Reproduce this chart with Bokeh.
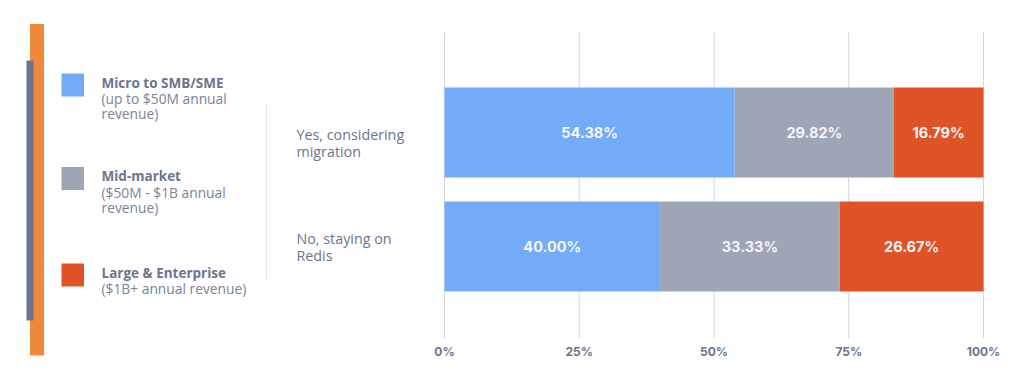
from bokeh.plotting import figure
from bokeh.models import Range1d
from bokeh.core.properties import value
from bokeh.embed import file_html
from bokeh.resources import INLINE

# ---- data ----
categories = ["Yes, considering\nmigration", "No, staying on\nRedis"]
series = ["Micro to SMB/SME", "Mid-market", "Large & Enterprise"]
series_desc = ["(up to $50M annual\nrevenue)", "($50M - $1B annual\nrevenue)", "($1B+ annual revenue)"]
micro = [54.38, 40.00]
mid = [29.82, 33.33]
large = [16.79, 26.67]
x_ticks = [0, 25, 50, 75, 100]

colors = ["#74abf7", "#9ea5b5", "#e05327"]
TXT = "#6b7590"
FONT = "Open Sans"
NUMFONT = "Inter"

W, H = 1016, 381
X0, X1 = 444, 983          # canvas pixels of 0% and 100%
PPU = (X1 - X0) / 100.0

p = figure(width=W, height=H,
           x_range=Range1d(-X0 / PPU, 100 + (W - X1) / PPU),
           y_range=Range1d(-(H - 246) / 114.0, 1 + 132 / 114.0),
           output_backend="svg", toolbar_location=None,
           min_border=0, min_border_left=0, min_border_right=0,
           min_border_top=0, min_border_bottom=0)
p.extra_x_ranges = {"px": Range1d(0, W)}
p.extra_y_ranges = {"px": Range1d(H, 0)}
p.axis.visible = False
p.grid.visible = False
p.outline_line_color = None

PX = dict(x_range_name="px", y_range_name="px")

# decorative bars
p.quad(left=29.5, right=43.5, top=23.5, bottom=355, fill_color="#f0883a", line_color=None, **PX)
p.quad(left=26, right=33, top=60, bottom=320, fill_color="#6b7590", line_color=None, **PX)
# thin separator
p.segment(x0=266, y0=103, x1=266, y1=280, line_color="#d8e6fa", line_width=1, **PX)

# legend
leg_top = [73, 166.5, 263]
p.quad(left=61, right=83.5, top=leg_top, bottom=[t + 23 for t in leg_top],
       fill_color=colors, line_color=None, **PX)
p.text(x=101, y=[t + 9 for t in leg_top], text=series, text_font=value(FONT),
       text_font_style="bold", text_font_size="13.5px", text_color=TXT,
       text_baseline="middle", text_align="left", **PX)
dx, dy, dt = [], [], []
for t, d in zip(leg_top, series_desc):
    for j, line in enumerate(d.split("\n")):
        dx.append(101)
        dy.append(t + 25 + 15 * j)
        dt.append(line)
p.text(x=dx, y=dy, text=dt, text_font=value(FONT), text_font_size="13.8px",
       text_color="#7a839c", text_baseline="middle", text_align="left", **PX)

# category labels
cat_top = [134, 238]
cx, cy, ct = [], [], []
for t, c in zip(cat_top, categories):
    for j, line in enumerate(c.split("\n")):
        cx.append(296)
        cy.append(t + 16.5 * j)
        ct.append(line)
p.text(x=cx, y=cy, text=ct, text_font=value(FONT), text_font_size="14.3px",
       text_color=TXT, text_baseline="middle", text_align="left", **PX)

# grid lines (behind bars) and tick labels
p.segment(x0=x_ticks, x1=x_ticks, y0=[32] * len(x_ticks), y1=[338] * len(x_ticks),
          line_color="#d3d6e0", line_width=1, y_range_name="px")
p.text(x=x_ticks, y=[351] * len(x_ticks), text=["%d%%" % t for t in x_ticks],
       text_font=value(NUMFONT), text_font_style="bold", text_font_size="12px",
       text_color=TXT, text_align="center", text_baseline="middle", y_range_name="px")

# stacked bars
n = len(categories)
ypos = [n - 1 - i for i in range(n)]
raw = [micro, mid, large]
totals = [sum(v) for v in zip(*raw)]
vals = [[v / t * 100 for v, t in zip(s, totals)] for s in raw]

left_edge = [0.0] * n
for k in range(3):
    right_edge = [l + v for l, v in zip(left_edge, vals[k])]
    p.hbar(y=ypos, left=left_edge, right=right_edge, height=0.79,
           fill_color=colors[k], line_color=None)
    p.text(x=[(a + b) / 2 for a, b in zip(left_edge, right_edge)], y=ypos,
           text=["%.2f%%" % v for v in raw[k]], text_font=value(NUMFONT),
           text_font_style="bold", text_font_size="14.5px", text_color="#f4f6fb",
           text_align="center", text_baseline="middle")
    left_edge = right_edge

open("out.html", "w").write(file_html(p, INLINE))
